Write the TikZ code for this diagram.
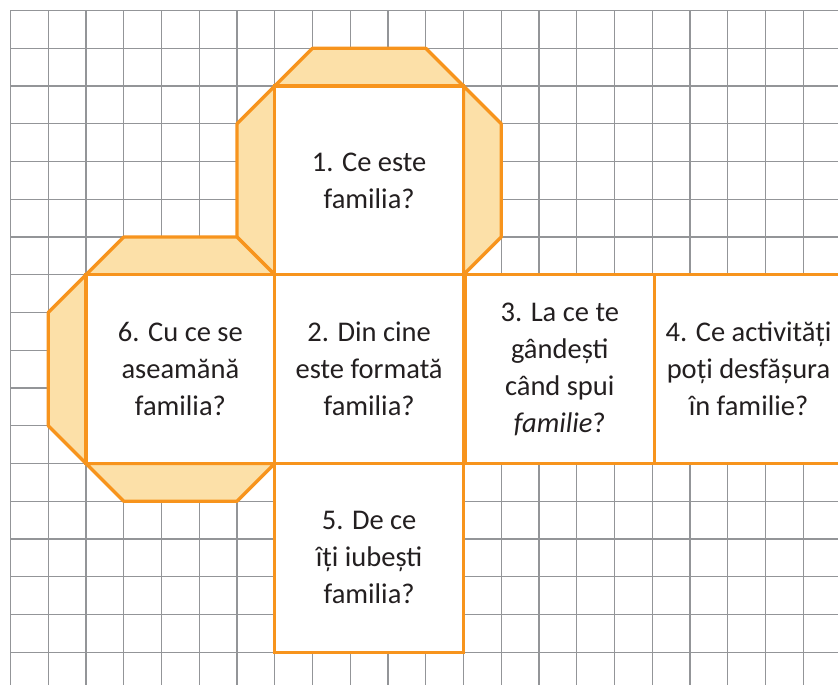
\documentclass[tikz,border=0pt]{standalone}
\usepackage{fontspec}
\setmainfont{Carlito}
\definecolor{cuborange}{HTML}{F7941D}
\definecolor{flapfill}{HTML}{FCE0A8}
\definecolor{gridgray}{HTML}{939598}
\definecolor{txtcol}{HTML}{231F20}
\begin{document}
\begin{tikzpicture}[x=37.75pt,y=-37.75pt,
  gridline/.style={draw=gridgray,line width=1.3pt},
  flap/.style={draw=cuborange,fill=flapfill,line width=3.2pt,line join=round},
  face/.style={draw=cuborange,fill=white,line width=3.2pt,minimum width=188.75pt,minimum height=188.75pt,inner sep=0pt,align=center,text=txtcol,font=\fontsize{28.5}{37}\selectfont}]
\useasboundingbox (-0.2781,-0.2781) rectangle (21.9205,17.8675);
% grid
\foreach \k in {0,...,21} \draw[gridline] (\k,0) -- (\k,17.8675);
\foreach \k in {0,...,17} \draw[gridline] (0,\k) -- (21.9205,\k);
% flaps
\draw[flap] (7,2) -- (8,1) -- (11,1) -- (12,2) -- cycle;
\draw[flap] (12,2) -- (13,3) -- (13,6) -- (12,7) -- cycle;
\draw[flap] (7,2) -- (6,3) -- (6,6) -- (7,7) -- cycle;
\draw[flap] (2,7) -- (3,6) -- (6,6) -- (7,7) -- cycle;
\draw[flap] (2,7) -- (1,8) -- (1,11) -- (2,12) -- cycle;
\draw[flap] (2,12) -- (3,13) -- (6,13) -- (7,12) -- cycle;
% faces
\node[face] (f1) at (9.5,4.5) {1. Ce este\\familia?};
\node[face] (f2) at (9.5,9.5) {2. Din cine\\este formată\\familia?};
\node[face] (f6) at (4.5,9.5) {6. Cu ce se\\aseamănă\\familia?};
\node[face] (f3) at (14.55,9.5) {3. La ce te\\gândești\\când spui\\\textit{familie}?};
\node[face] (f4) at (19.55,9.5) {4. Ce activități\\poți desfășura\\în familie?};
\node[face] (f5) at (9.5,14.5) {5. De ce\\îți iubești\\familia?};
\end{tikzpicture}
\end{document}
